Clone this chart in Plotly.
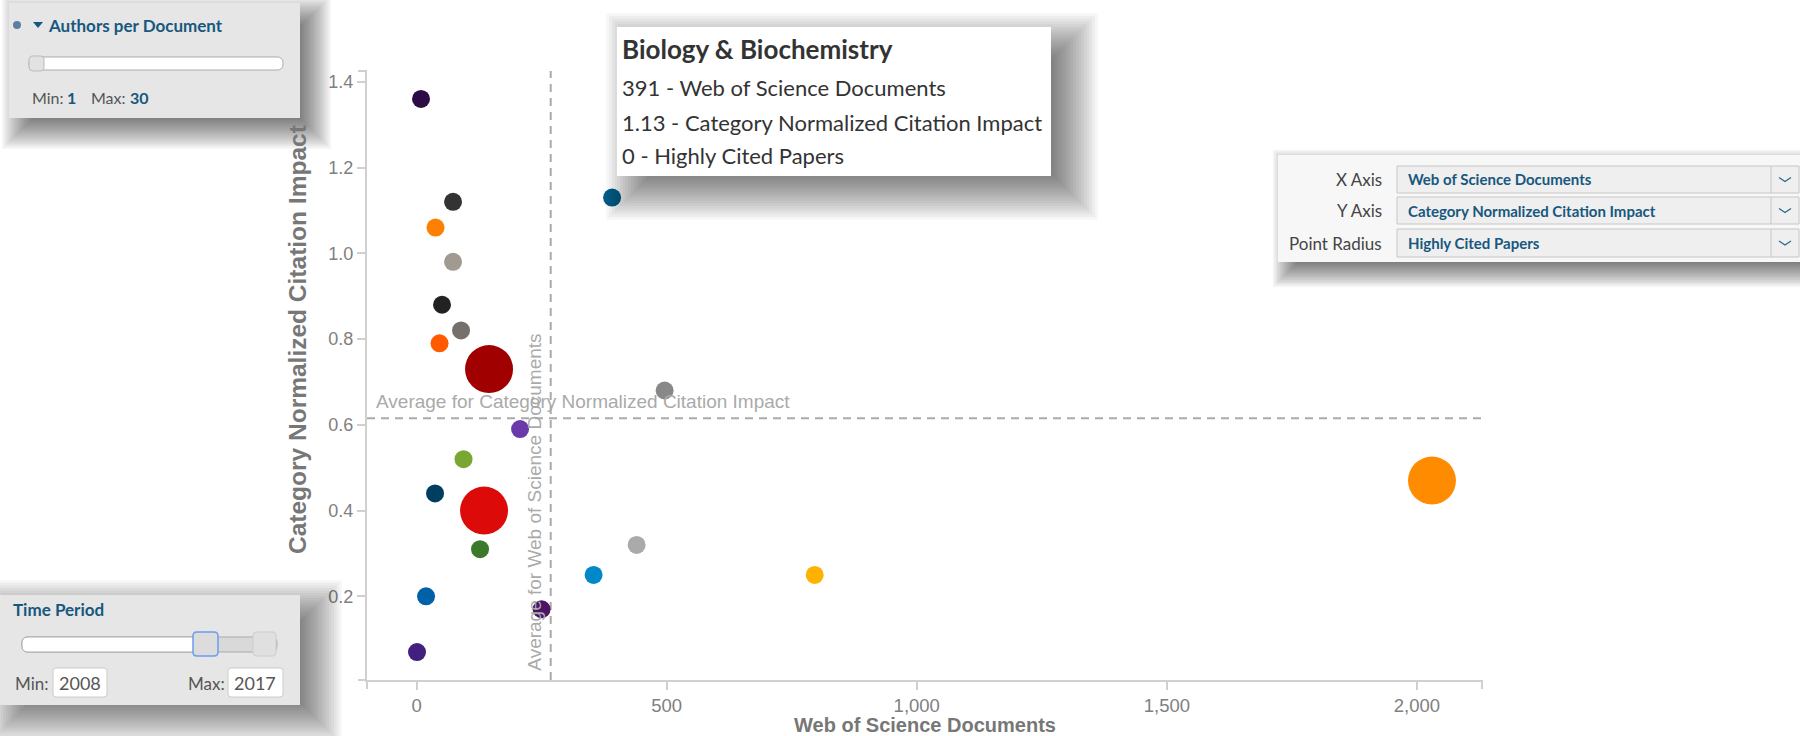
import plotly.graph_objects as go

# ---------------- data ----------------
categories = [
    "Space Science", "Geosciences", "Economics & Business", "Mathematics",
    "Computer Science", "Engineering", "Psychiatry/Psychology",
    "Molecular Biology & Genetics", "Biology & Biochemistry", "Chemistry",
    "Neuroscience & Behavior", "Environment/Ecology", "Multidisciplinary",
    "Immunology", "Plant & Animal Science", "Agricultural Sciences",
    "Social Sciences, General", "Microbiology", "Materials Science",
    "Physics", "Pharmacology & Toxicology", "Clinical Medicine",
]
wos_documents = [9, 73, 38, 73, 51, 89, 46, 145, 391, 496, 207,
                 94, 37, 135, 127, 19, 1, 250, 354, 440, 796, 2030]
cnci = [1.36, 1.12, 1.06, 0.98, 0.88, 0.82, 0.79, 0.73, 1.13, 0.68, 0.59,
        0.52, 0.44, 0.40, 0.31, 0.20, 0.07, 0.17, 0.25, 0.32, 0.25, 0.47]
highly_cited = [0, 0, 0, 0, 0, 0, 0, 1, 0, 0, 0,
                0, 0, 1, 0, 0, 0, 0, 0, 0, 0, 1]
point_colors = ["#2c0b46", "#333333", "#ff8000", "#a09a92", "#222222",
                "#77706a", "#ff5a00", "#a00000", "#005c87", "#888888",
                "#6a3aaa", "#7aa632", "#003d60", "#dd0a0a", "#3a7a2a",
                "#0060a8", "#41207f", "#4a1565", "#0088c8", "#aaaaaa",
                "#ffb300", "#ff8c00"]
x_ticks = [0, 500, 1000, 1500, 2000]
y_ticks = [0.2, 0.4, 0.6, 0.8, 1.0, 1.2, 1.4]

x_title = "Web of Science Documents"
y_title = "Category Normalized Citation Impact"
r_title = "Highly Cited Papers"
tooltip_category = "Biology & Biochemistry"

# derived
avg_x = sum(wos_documents) / len(wos_documents)
avg_y = sum(cnci) / len(cnci)
x_range = [min(wos_documents) - 100, max(wos_documents) + 100]
y_range = [min(cnci) - 0.065, max(cnci) + 0.065]
sizes = [18 + 30 * h for h in highly_cited]
ti = categories.index(tooltip_category)

# ---------------- geometry (pixels) ----------------
W, H = 1800, 736
L, R, T, B = 367, 1482, 71, 680

def fx(px):
    return (px - L) / (R - L)

def fy(py):
    return (B - py) / (B - T)

def P(px, py):
    return f"{fx(px):.6f},{fy(py):.6f}"

shapes = []
annotations = []

def rect(x0, y0, x1, y1, fill, line="rgba(0,0,0,0)", lw=0):
    shapes.append(dict(type="rect", xref="paper", yref="paper",
                       x0=fx(x0), x1=fx(x1), y0=fy(y1), y1=fy(y0),
                       fillcolor=fill, line=dict(color=line, width=lw),
                       layer="above"))

def rrect(x0, y0, x1, y1, r, fill, line="rgba(0,0,0,0)", lw=0):
    path = (f"M{P(x0 + r, y0)} L{P(x1 - r, y0)} Q{P(x1, y0)} {P(x1, y0 + r)} "
            f"L{P(x1, y1 - r)} Q{P(x1, y1)} {P(x1 - r, y1)} "
            f"L{P(x0 + r, y1)} Q{P(x0, y1)} {P(x0, y1 - r)} "
            f"L{P(x0, y0 + r)} Q{P(x0, y0)} {P(x0 + r, y0)} Z")
    shapes.append(dict(type="path", xref="paper", yref="paper", path=path,
                       fillcolor=fill, line=dict(color=line, width=lw),
                       layer="above"))

def line(x0, y0, x1, y1, color, lw=1, dash="solid"):
    shapes.append(dict(type="line", xref="paper", yref="paper",
                       x0=fx(x0), x1=fx(x1), y0=fy(y0), y1=fy(y1),
                       line=dict(color=color, width=lw, dash=dash),
                       layer="above"))

def shadow(x0, y0, x1, y1, dx=15, dy=15, blur=28, n=22, strength=0.55):
    a = 1 - (1 - strength) ** (1.0 / n)
    for i in range(n):
        e = blur - 2 * blur * (i + 0.5) / n
        rect(x0 + dx - e, y0 + dy - e, x1 + dx + e, y1 + dy + e,
             f"rgba(0,0,0,{a:.4f})")

def text(px, py, s, size, color, family="Lato", xanchor="left",
         yanchor="middle", angle=0):
    annotations.append(dict(xref="paper", yref="paper", x=fx(px), y=fy(py),
                            text=s, showarrow=False, xanchor=xanchor,
                            yanchor=yanchor, textangle=angle,
                            font=dict(size=size, color=color, family=family),
                            borderpad=0, borderwidth=0))

BLUE = "#17587e"
ARIAL = "Liberation Sans, Arial, sans-serif"

# ---------------- average lines ----------------
shapes.append(dict(type="line", xref="x", yref="paper", x0=avg_x, x1=avg_x,
                   y0=0, y1=1, line=dict(color="#aaaaaa", width=2,
                                         dash="8px,6px"), layer="below"))
shapes.append(dict(type="line", xref="paper", yref="y", x0=0, x1=1,
                   y0=avg_y, y1=avg_y, line=dict(color="#aaaaaa", width=2,
                                                 dash="8px,6px"), layer="below"))
annotations.append(dict(xref="paper", yref="y", x=0, y=avg_y, xshift=7,
                        yshift=4, xanchor="left", yanchor="bottom",
                        text="Average for " + y_title, showarrow=False,
                        font=dict(size=19, color="#aaaaaa", family=ARIAL)))
annotations.append(dict(xref="x", yref="paper", x=avg_x, y=0, xshift=-4,
                        yshift=7, xanchor="right", yanchor="bottom",
                        textangle=-90, text="Average for " + x_title,
                        showarrow=False,
                        font=dict(size=19, color="#aaaaaa", family=ARIAL)))

# outer end ticks (d3 style)
AX = "#d0d0d0"
line(L, B, L, B + 9, AX, 2)
line(R, B, R, B + 9, AX, 2)
line(L - 9, T, L, T, AX, 2)
line(L - 9, B, L, B, AX, 2)

# axis titles
text((L + R) / 2, 724.5, "<b>" + x_title + "</b>", 20, "#777777", ARIAL,
     xanchor="center")
text(297, 340, "<b>" + y_title + "</b>", 24.5, "#777777", ARIAL,
     xanchor="center", angle=-90)

# ---------------- panel 1: authors per document ----------------
shadow(9, 3, 300, 118, dx=12, dy=12, blur=20)
rect(9, 3, 300, 118, "#e6e6e6")
shapes.append(dict(type="circle", xref="paper", yref="paper",
                   x0=fx(13), x1=fx(21), y0=fy(29), y1=fy(21),
                   fillcolor="#5b7fa3", line=dict(width=0), layer="above"))
shapes.append(dict(type="path", xref="paper", yref="paper",
                   path=f"M{P(33, 22)} L{P(43, 22)} L{P(38, 28)} Z",
                   fillcolor=BLUE, line=dict(width=0), layer="above"))
text(48, 26, "<b>Authors per Document</b>", 17, BLUE)
rrect(29, 57, 283, 70, 6, "#ffffff", "#aaaaaa", 1)
rrect(29, 56, 44, 71, 4, "#e2e2e2", "#bbbbbb", 1)
text(32, 98, "Min:", 16, "#555555")
text(67, 98, "<b>1</b>", 16, BLUE)
text(91, 98, "Max:", 16, "#555555")
text(130, 98, "<b>30</b>", 16, BLUE)

# ---------------- panel 2: tooltip ----------------
shadow(617, 27, 1051, 176, dx=18, dy=15, blur=30)
rect(617, 27, 1051, 176, "#ffffff")
text(622, 49, f"<b>{categories[ti]}</b>", 26, "#333333")
text(622, 88, f"{wos_documents[ti]} - {x_title}", 22, "#333333")
text(622, 122, f"{cnci[ti]:.2f} - {y_title}", 22, "#333333")
text(622, 155, f"{highly_cited[ti]} - {r_title}", 22, "#333333")

# ---------------- panel 3: axis selectors ----------------
shadow(1278, 155, 1800, 262, dx=10, dy=10, blur=16)
rect(1278, 155, 1800, 262, "#f7f7f7")
for label, value, (y0, y1) in [("X Axis", x_title, (166, 193)),
                               ("Y Axis", y_title, (197, 224)),
                               ("Point Radius", r_title, (229, 257))]:
    ym = (y0 + y1) / 2
    text(1382, ym, label, 17, "#444444", xanchor="right")
    rect(1397, y0, 1799, y1, "#efefef", "#c6c6c6", 1)
    line(1771, y0, 1771, y1, "#c6c6c6", 1)
    shapes.append(dict(type="path", xref="paper", yref="paper",
                       path=f"M{P(1779, ym - 2)} L{P(1785, ym + 2)} L{P(1791, ym - 2)}",
                       line=dict(color="#2a6a90", width=1.3), layer="above"))
    text(1408, ym, f"<b>{value}</b>", 15, BLUE)

# ---------------- panel 4: time period ----------------
shadow(0, 595, 300, 705, dx=15, dy=12, blur=28)
rect(0, 595, 300, 705, "#e6e6e6")
text(13, 609, "<b>Time Period</b>", 17, BLUE)
rrect(22, 637, 277, 652, 6, "#d9d9d9", "#aaaaaa", 1)
rrect(22, 637, 205, 652, 6, "#ffffff", "#aaaaaa", 1)
rrect(193, 632, 218, 656, 4, "#dcdcdc", "#6b9cf0", 1.5)
rrect(253, 632, 276, 656, 4, "#e0e0e0", "#cccccc", 1)
text(15, 683, "Min:", 17, "#555555")
rrect(53, 668, 107, 697, 3, "#ffffff", "#cccccc", 1)
text(80, 683, "2008", 18, "#555555", xanchor="center")
text(188, 683, "Max:", 17, "#555555")
rrect(228, 668, 283, 697, 3, "#ffffff", "#cccccc", 1)
text(255, 683, "2017", 18, "#555555", xanchor="center")

# ---------------- figure ----------------
fig = go.Figure()
fig.add_trace(go.Scatter(
    x=wos_documents, y=cnci, mode="markers", text=categories,
    customdata=highly_cited,
    marker=dict(size=sizes, sizemode="diameter", color=point_colors,
                opacity=1, line=dict(width=0)),
    hovertemplate="<b>%{text}</b><br>%{x} - " + x_title +
                  "<br>%{y:.2f} - " + y_title +
                  "<br>%{customdata} - " + r_title + "<extra></extra>",
    showlegend=False, cliponaxis=False,
))

fig.update_layout(
    width=W, height=H,
    margin=dict(l=L, r=W - R, t=T, b=H - B, pad=0),
    paper_bgcolor="#ffffff", plot_bgcolor="#ffffff",
    xaxis=dict(range=x_range, tickvals=x_ticks, tickformat=",d",
               showgrid=False, zeroline=False, showline=True, linecolor=AX,
               linewidth=2, ticks="outside", ticklen=8, tickcolor=AX,
               tickwidth=1.5, tickfont=dict(size=18.5, color="#808080",
                                           family=ARIAL),
               fixedrange=True),
    yaxis=dict(range=y_range, tickvals=y_ticks, tickformat=".1f",
               showgrid=False, zeroline=False, showline=True, linecolor=AX,
               linewidth=2, ticks="outside", ticklen=8, tickcolor=AX,
               tickwidth=1.5, tickfont=dict(size=18, color="#808080",
                                           family=ARIAL),
               fixedrange=True),
    shapes=shapes, annotations=annotations,
    hoverlabel=dict(bgcolor="white", font=dict(family="Lato", color="#333")),
)

fig.write_html("out.html", config={"displayModeBar": False},
               post_script="document.body.style.margin='0px';")
